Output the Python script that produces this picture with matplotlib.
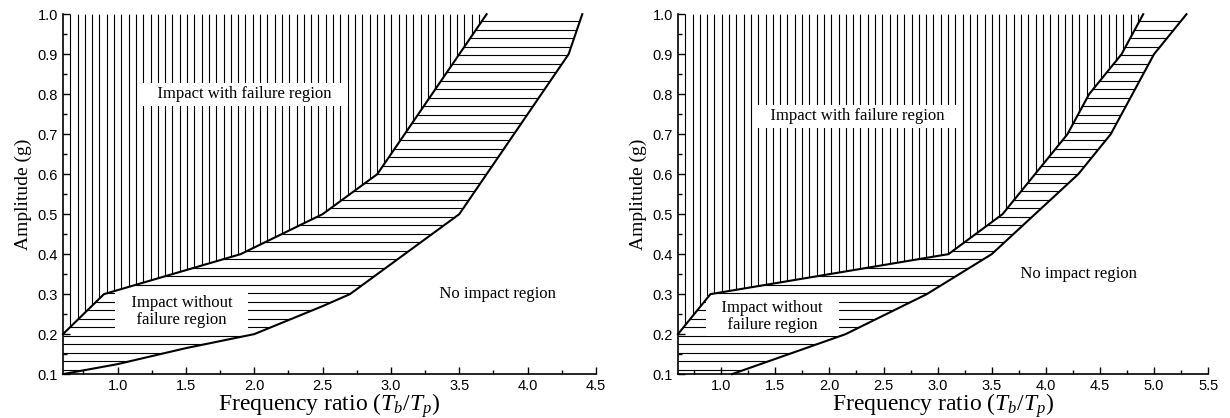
#!/usr/bin/env python3
"""
Impact regions of amplitude vs frequency ratio (two cases).
"""

import numpy as np
import matplotlib
matplotlib.use("Agg")
import matplotlib.pyplot as plt
from matplotlib.patches import Polygon
from matplotlib.collections import LineCollection
from matplotlib.ticker import MultipleLocator

plt.rcParams['mathtext.fontset'] = 'custom'
plt.rcParams['mathtext.rm'] = 'Liberation Serif'
plt.rcParams['mathtext.it'] = 'Liberation Serif:italic'

# ---- data ----
# left panel
left_upper_x = [0.6, 0.9, 1.9, 2.5, 2.9, 3.7]
left_upper_y = [0.2, 0.3, 0.4, 0.5, 0.6, 1.0]
left_lower_x = [0.6, 1.0, 1.5, 2.0, 2.5, 2.7, 3.5, 4.3, 4.4]
left_lower_y = [0.1, 0.125, 0.165, 0.2, 0.27, 0.3, 0.5, 0.9, 1.0]
left_xmax = 4.5

# right panel
right_upper_x = [0.6, 0.9, 3.1, 3.6, 4.2, 4.4, 4.7, 4.9]
right_upper_y = [0.2, 0.3, 0.4, 0.5, 0.7, 0.8, 0.9, 1.0]
right_lower_x = [1.1, 2.15, 2.9, 3.5, 4.3, 4.6, 5.0, 5.3]
right_lower_y = [0.1, 0.2, 0.3, 0.4, 0.6, 0.7, 0.9, 1.0]
right_xmax = 5.5

region_labels = ['Impact with failure region',
                 'Impact without\nfailure region',
                 'No impact region']
left_label_xy = [(1.93, 0.80), (1.47, 0.257), (3.78, 0.30)]
right_label_xy = [(2.26, 0.745), (1.47, 0.245), (4.30, 0.35)]

XMIN, YMIN, YMAX = 0.6, 0.1, 1.0

fig = plt.figure(figsize=(12.3, 4.18), dpi=100)
ax_l = fig.add_axes([0.0512, 0.105, 0.4333, 0.861])
ax_r = fig.add_axes([0.5512, 0.105, 0.4310, 0.861])


def hatch_region(ax, verts, orient, spacing_px, xmax):
    # hatch lines drawn by hand so the spacing matches the original
    poly = Polygon(verts, closed=True, facecolor='none', edgecolor='none')
    ax.add_patch(poly)
    bbox = ax.get_position()
    w_px = bbox.width * fig.get_figwidth() * fig.dpi
    h_px = bbox.height * fig.get_figheight() * fig.dpi
    if orient == 'v':
        step = spacing_px * (xmax - XMIN) / w_px
        pos = np.arange(XMIN + step, xmax, step)
        segs = [[(p, YMIN), (p, YMAX)] for p in pos]
    else:
        step = spacing_px * (YMAX - YMIN) / h_px
        pos = np.arange(YMIN + step * 0.5, YMAX, step)
        segs = [[(XMIN, p), (xmax, p)] for p in pos]
    lc = LineCollection(segs, colors='black', linewidths=0.8, zorder=2)
    ax.add_collection(lc)
    lc.set_clip_path(poly)


def draw_panel(ax, ux, uy, lx, ly, xmax, label_xy):
    ax.set_xlim(XMIN, xmax)
    ax.set_ylim(YMIN, YMAX)

    upper = list(zip(ux, uy))
    lower = list(zip(lx, ly))
    top_region = [(XMIN, YMAX)] + upper
    mid_region = upper + lower[::-1] + [(XMIN, YMIN)]

    hatch_region(ax, top_region, 'v', 7.3, xmax)
    hatch_region(ax, mid_region, 'h', 8.5, xmax)

    ax.plot(ux, uy, color='black', lw=1.5, clip_on=False, zorder=4)
    ax.plot(lx, ly, color='black', lw=1.5, clip_on=False, zorder=4)

    box = dict(facecolor='white', edgecolor='none', pad=2.5)
    for (x, y), s in zip(label_xy, region_labels):
        padded = '\n'.join('   ' + line + '   ' for line in s.split('\n'))
        ax.text(x, y, padded, ha='center', va='center', fontsize=12,
                family='Liberation Serif', bbox=box, zorder=3,
                linespacing=1.1, multialignment='center')

    for side in ['top', 'right']:
        ax.spines[side].set_visible(False)
    for side in ['left', 'bottom']:
        ax.spines[side].set_linewidth(1.2)

    ax.xaxis.set_minor_locator(MultipleLocator(0.25))
    ax.yaxis.set_minor_locator(MultipleLocator(0.05))
    ax.tick_params(which='both', direction='in', width=1.0)
    ax.tick_params(which='major', length=5)
    ax.tick_params(which='minor', length=3)
    xt = np.arange(1.0, xmax + 0.01, 0.5)
    yt = np.arange(0.1, 1.01, 0.1)
    ax.set_xticks(xt)
    ax.set_xticklabels([f"{t:.1f}" for t in xt], family='Liberation Sans',
                       fontsize=10.5)
    ax.set_yticks(yt)
    ax.set_yticklabels([f"{t:.1f}" for t in yt], family='Liberation Sans',
                       fontsize=10.5)

    ax.set_xlabel(r'Frequency ratio ($T_b$/$T_p$)', fontsize=17,
                  family='Liberation Serif', labelpad=-1)
    ax.set_ylabel('Amplitude (g)', fontsize=14, family='Liberation Serif',
                  labelpad=4)


draw_panel(ax_l, left_upper_x, left_upper_y, left_lower_x, left_lower_y,
           left_xmax, left_label_xy)
draw_panel(ax_r, right_upper_x, right_upper_y, right_lower_x, right_lower_y,
           right_xmax, right_label_xy)

fig.savefig('out.png', dpi=100)
